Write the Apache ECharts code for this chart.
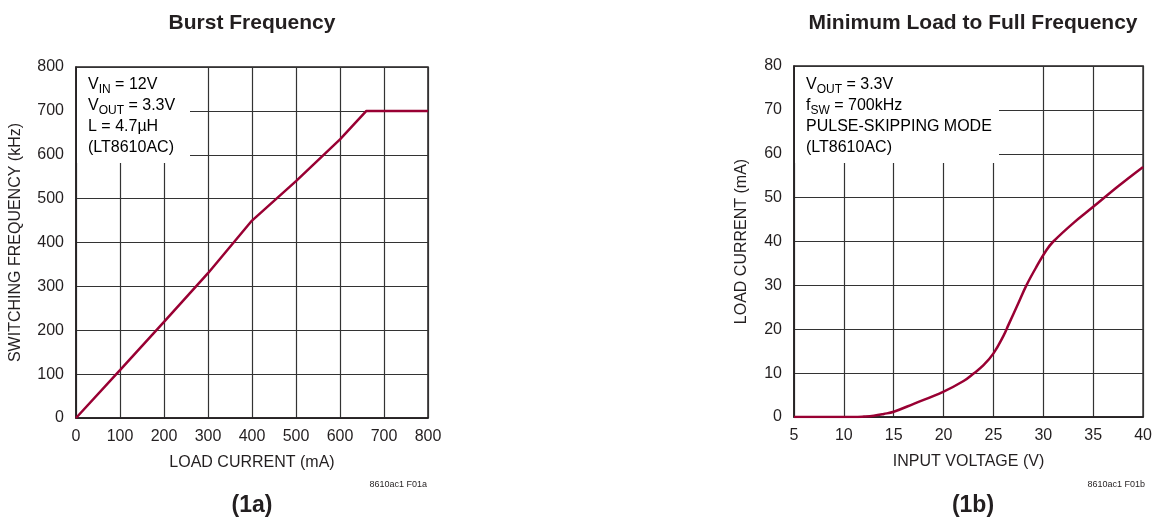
<!DOCTYPE html>
<html>
<head>
<meta charset="utf-8">
<script src="https://cdn.jsdelivr.net/npm/echarts@6/dist/echarts.min.js"></script>
<style>
  html, body { margin: 0; padding: 0; background: #fff; }
  #chart { width: 1155px; height: 521px; }
</style>
</head>
<body>
<div id="chart"></div>
<script>
// (1a) burst frequency vs load current
const loadCurrent = [0, 100, 200, 300, 400, 500, 600, 660, 800]
const switchFreq = [0, 109, 219, 330, 450, 540, 635, 700, 700]

// (1b) minimum load vs input voltage
const inputVoltage = [5, 8, 10, 11, 12, 13, 14, 15, 17, 20, 22, 23, 24, 25, 26, 26.5, 27.5, 28.3, 29.3, 30.3, 31, 33, 35, 37.5, 40]
const minLoad = [0, 0, 0, 0, 0.1, 0.3, 0.7, 1.2, 3, 5.8, 8.2, 9.9, 11.8, 14.5, 18.5, 21, 26, 30, 34.2, 38, 40, 44.2, 47.9, 52.6, 57]

const FONT = '"Liberation Sans Narrow", "Liberation Sans", Arial, sans-serif'
const LINE = '#990033'
const TXT = '#231f20'

const chart = echarts.init(document.getElementById('chart'))

const axisCommon = {
  axisLine: { show: true, lineStyle: { color: '#231f20', width: 1.5 } },
  axisTick: { show: false },
  axisLabel: { color: TXT, fontSize: 16, fontFamily: FONT },
  splitLine: { show: true, lineStyle: { color: '#333', width: 1.2 } },
  nameLocation: 'middle',
  nameTextStyle: { color: TXT, fontSize: 16, fontFamily: FONT }
}

const annotRich = {
  n: { fontSize: 16, fontFamily: FONT, color: TXT, lineHeight: 21 },
  s: { fontSize: 12, fontFamily: FONT, color: TXT, lineHeight: 21, padding: [10, 0, 0, 0] }
}

const option = {
  animation: false,
  grid: [
    { left: 76, top: 67, width: 352, height: 351, show: true, borderColor: '#231f20', borderWidth: 1.5 },
    { left: 794, top: 66, width: 352, height: 351, show: true, borderColor: '#231f20', borderWidth: 1.5 }
  ],
  xAxis: [
    Object.assign({}, axisCommon, {
      gridIndex: 0, type: 'value', min: 0, max: 800, interval: 100,
      name: 'LOAD CURRENT (mA)', nameGap: 37,
      axisLabel: Object.assign({}, axisCommon.axisLabel, { margin: 11 })
    }),
    Object.assign({}, axisCommon, {
      gridIndex: 1, type: 'value', min: 5, max: 40, interval: 5,
      name: 'INPUT VOLTAGE (V)', nameGap: 37,
      axisLabel: Object.assign({}, axisCommon.axisLabel, { margin: 11 })
    })
  ],
  yAxis: [
    Object.assign({}, axisCommon, {
      gridIndex: 0, type: 'value', min: 0, max: 800, interval: 100,
      name: 'SWITCHING FREQUENCY (kHz)', nameGap: 52,
      axisLabel: Object.assign({}, axisCommon.axisLabel, { margin: 12 })
    }),
    Object.assign({}, axisCommon, {
      gridIndex: 1, type: 'value', min: 0, max: 80, interval: 10,
      name: 'LOAD CURRENT (mA)', nameGap: 44,
      axisLabel: Object.assign({}, axisCommon.axisLabel, { margin: 12 })
    })
  ],
  series: [
    {
      type: 'line', xAxisIndex: 0, yAxisIndex: 0,
      data: loadCurrent.map((x, i) => [x, switchFreq[i]]),
      showSymbol: false, lineStyle: { color: LINE, width: 2.5 }, z: 3
    },
    {
      type: 'line', xAxisIndex: 1, yAxisIndex: 1, smooth: 0.4,
      data: inputVoltage.map((x, i) => [x, minLoad[i]]),
      showSymbol: false, lineStyle: { color: LINE, width: 2.5 }, z: 3
    }
  ],
  graphic: [
    { type: 'text', x: 252, y: 13, style: { text: 'Burst Frequency', fontSize: 21, fontWeight: 'bold', fontFamily: FONT, fill: TXT, align: 'center' } },
    { type: 'text', x: 973, y: 13, style: { text: 'Minimum Load to Full Frequency', fontSize: 21, fontWeight: 'bold', fontFamily: FONT, fill: TXT, align: 'center' } },
    { type: 'text', x: 252, y: 494, style: { text: '(1a)', fontSize: 23, fontWeight: 'bold', fontFamily: FONT, fill: TXT, align: 'center' } },
    { type: 'text', x: 973, y: 494, style: { text: '(1b)', fontSize: 23, fontWeight: 'bold', fontFamily: FONT, fill: TXT, align: 'center' } },
    { type: 'text', x: 427, y: 480, style: { text: '8610ac1 F01a', fontSize: 9, fontFamily: FONT, fill: TXT, align: 'right' } },
    { type: 'text', x: 1145, y: 480, style: { text: '8610ac1 F01b', fontSize: 9, fontFamily: FONT, fill: TXT, align: 'right' } },
    { type: 'rect', shape: { x: 77, y: 68, width: 113, height: 95 }, style: { fill: '#fff' }, z: 10 },
    {
      type: 'text', x: 88, y: 74, z: 11,
      style: {
        text: '{n|V}{s|IN}{n| = 12V}\n{n|V}{s|OUT}{n| = 3.3V}\n{n|L = 4.7µH}\n{n|(LT8610AC)}',
        rich: annotRich
      }
    },
    { type: 'rect', shape: { x: 795, y: 67, width: 204, height: 96 }, style: { fill: '#fff' }, z: 10 },
    {
      type: 'text', x: 806, y: 74, z: 11,
      style: {
        text: '{n|V}{s|OUT}{n| = 3.3V}\n{n|f}{s|SW}{n| = 700kHz}\n{n|PULSE-SKIPPING MODE}\n{n|(LT8610AC)}',
        rich: annotRich
      }
    }
  ]
}

chart.setOption(option)
</script>
</body>
</html>
